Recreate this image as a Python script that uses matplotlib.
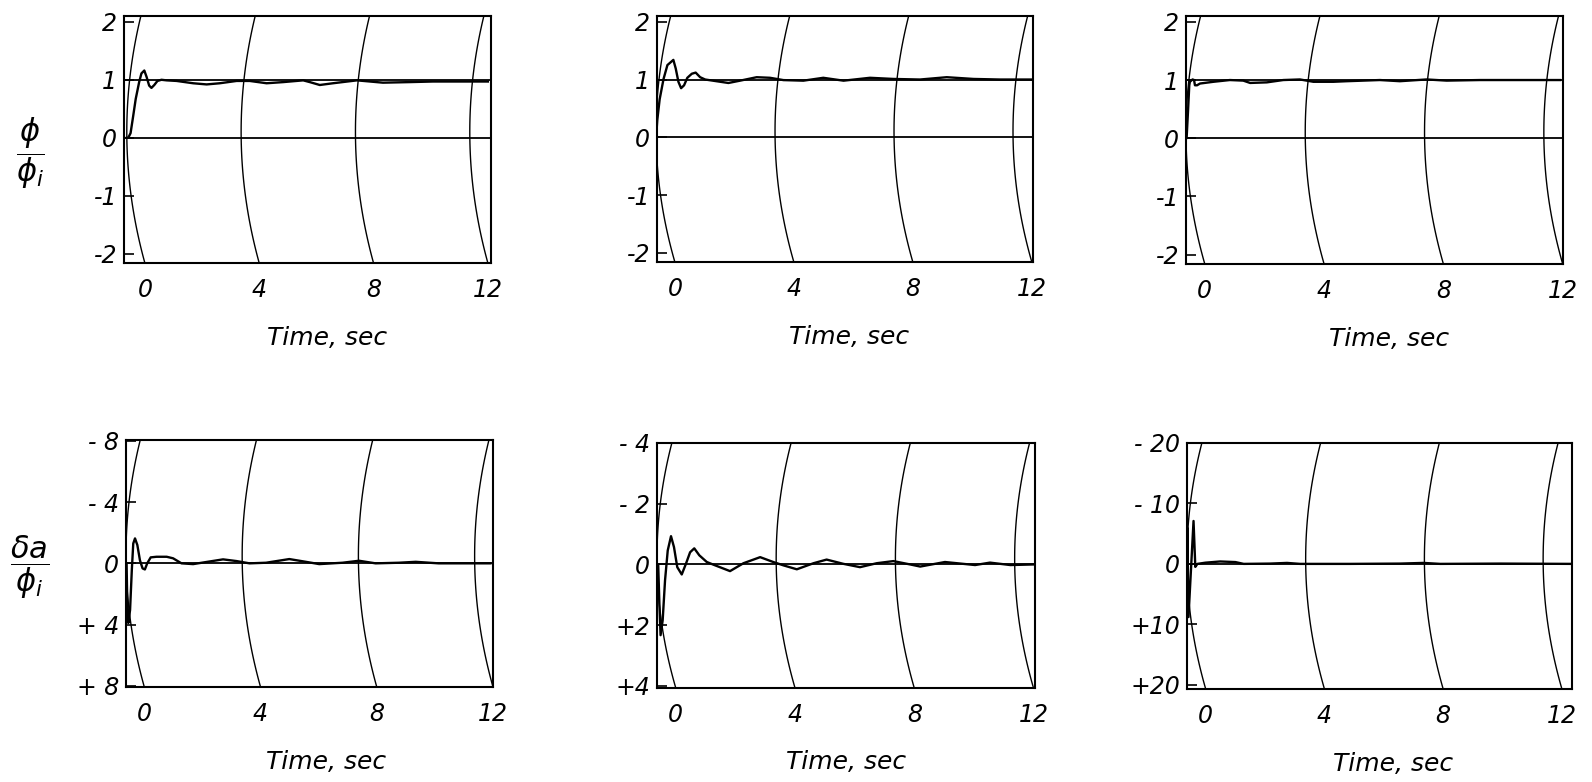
from matplotlib import pyplot as plt
import numpy as np

plt.rcParams['font.family'] = ['DejaVu Sans']
plt.rcParams['mathtext.fontset'] = 'dejavusans'

# bank angle response phi/phi_i, configurations A, B, C
T_PHI_A = [0.0, 0.05, 0.13, 0.22, 0.31, 0.43, 0.51, 0.61, 0.69, 0.78, 0.86, 0.96, 1.07, 1.21, 1.39, 1.74,
           2.32, 2.79, 3.25, 3.84, 4.30, 4.89, 5.47, 6.17, 6.40, 6.75, 7.21, 8.05, 8.96, 9.90, 10.71, 11.90, 12.63]
PHI_A = [0.0, 0.0, 0.08, 0.37, 0.67, 0.96, 1.11, 1.16, 1.05, 0.90, 0.86, 0.91, 0.98, 1.00, 0.99, 0.98,
         0.94, 0.92, 0.94, 0.98, 0.98, 0.94, 0.96, 0.99, 0.96, 0.91, 0.94, 0.99, 0.95, 0.96, 0.97, 0.97, 0.97]

T_PHI_B = [0.0, 0.04, 0.12, 0.25, 0.38, 0.58, 0.66, 0.75, 0.84, 0.94, 1.05, 1.20, 1.33, 1.48, 1.65, 2.04,
           2.43, 2.82, 3.38, 3.83, 4.28, 4.95, 5.62, 6.30, 7.19, 7.98, 8.87, 9.77, 10.67, 11.56, 12.63]
PHI_B = [0.0, 0.30, 0.66, 1.01, 1.25, 1.34, 1.19, 0.96, 0.85, 0.90, 1.03, 1.10, 1.12, 1.04, 1.00, 0.97,
         0.94, 0.98, 1.04, 1.03, 0.99, 0.98, 1.03, 0.98, 1.03, 1.01, 1.00, 1.04, 1.01, 1.00, 1.00]

T_PHI_C = [0.0, 0.02, 0.07, 0.11, 0.13, 0.22, 0.27, 0.30, 0.37, 0.47, 0.92, 1.47, 1.92, 2.15, 2.71, 3.26,
           3.82, 4.27, 4.94, 5.39, 6.50, 7.17, 8.07, 8.74, 9.86, 10.97, 12.54]
PHI_C = [0.0, 0.0, 0.49, 0.91, 0.97, 1.01, 1.00, 0.91, 0.91, 0.94, 0.97, 1.00, 0.99, 0.95, 0.96, 1.00,
         1.01, 0.97, 0.97, 0.98, 1.00, 0.98, 1.01, 0.99, 1.00, 1.00, 1.00]

# aileron deflection delta_a/phi_i, configurations A, B, C
T_DA_A = [0.0, 0.02, 0.04, 0.08, 0.14, 0.20, 0.25, 0.31, 0.39, 0.48, 0.57, 0.65, 0.73, 0.85, 1.05, 1.40,
          1.62, 1.91, 2.31, 2.77, 3.34, 3.80, 4.25, 4.82, 5.62, 6.19, 6.65, 7.45, 8.02, 8.59, 9.39, 9.97,
          10.76, 11.91, 12.54]
DA_A = [0.0, 0.0, 2.2, 3.9, 3.05, 0.44, -1.3, -1.63, -1.2, -0.2, 0.33, 0.4, 0.0, -0.39, -0.43, -0.43,
        -0.33, 0.0, 0.05, -0.09, -0.26, -0.15, 0.0, -0.04, -0.28, -0.1, 0.05, -0.04, -0.17, 0.0, -0.04, -0.1,
        0.0, 0.0, 0.0]

T_DA_B = [0.0, 0.04, 0.08, 0.12, 0.19, 0.27, 0.36, 0.47, 0.57, 0.68, 0.83, 0.97, 1.11, 1.25, 1.42, 1.67,
          1.95, 2.45, 2.90, 3.46, 3.90, 4.24, 4.69, 5.25, 5.69, 6.25, 6.81, 7.37, 7.93, 8.49, 8.83, 9.66,
          10.67, 11.17, 11.85, 12.65]
DA_B = [0.0, 0.0, 1.29, 2.33, 1.84, 0.52, -0.46, -0.93, -0.57, 0.09, 0.33, -0.02, -0.40, -0.53, -0.30, -0.08,
        0.03, 0.22, -0.04, -0.24, -0.08, 0.03, 0.16, -0.04, -0.16, -0.02, 0.09, -0.04, -0.11, 0.0, 0.07, -0.08,
        0.02, -0.06, 0.02, 0.0]

T_DA_C = [0.0, 0.01, 0.05, 0.22, 0.28, 0.35, 0.62, 1.12, 1.63, 1.91, 2.80, 3.37, 3.81, 5.50, 7.18, 7.97,
          8.53, 10.55, 12.97]
DA_C = [0.0, -6.0, 8.8, -7.1, 0.5, 0.0, -0.2, -0.4, -0.3, 0.0, -0.05, -0.16, 0.0, 0.0, -0.05, -0.16,
        0.0, -0.05, 0.0]

TIME_MARKS = [0, 4, 8, 12]
TIME_LABELS = ['0', '4', '8', '12']
PHI_TICKS = [2, 1, 0, -1, -2]
PHI_LABELS = ['2', '1', '0', '-1', '-2']
DA_TICKS = [[-8, -4, 0, 4, 8], [-4, -2, 0, 2, 4], [-20, -10, 0, 10, 20]]
DA_LABELS = [['- 8', '- 4', '0', '+ 4', '+ 8'], ['- 4', '- 2', '0', '+2', '+4'],
             ['- 20', '- 10', '0', '+10', '+20']]

# layout (pixels: left, top, right, bottom)
W, H = 1592, 782
BOX = [[(124, 16, 491, 263), (657, 16, 1033, 262), (1186, 16, 1563, 264)],
       [(126, 440, 493, 687), (657, 443, 1035, 688), (1187, 443, 1572, 689)]]
XLIM = [[(-0.10, 12.74), (0.03, 12.67), (0.0, 12.64)],
        [(0.0, 12.58), (0.0, 12.68), (0.0, 12.97)]]
YLIM = [[(-2.16, 2.10)] * 3,
        [(8.08, -8.06), (4.07, -3.97), (20.7, -19.8)]]
XLAB = [[0.553, 0.51, 0.538], [0.545, 0.50, 0.534]]
BOW, TILT = 0.56, -0.07   # recorder timing arcs: x = t + BOW*u^2 + TILT*u

TRACES = [[(T_PHI_A, PHI_A), (T_PHI_B, PHI_B), (T_PHI_C, PHI_C)],
          [(T_DA_A, DA_A), (T_DA_B, DA_B), (T_DA_C, DA_C)]]

fig = plt.figure(figsize=(W / 100, H / 100), dpi=100)

for r in range(2):
    for c in range(3):
        l, t, rr, b = BOX[r][c]
        ax = fig.add_axes([l / W, 1 - b / H, (rr - l) / W, (b - t) / H])
        ax.set_xlim(*XLIM[r][c])
        ax.set_ylim(*YLIM[r][c])
        for sp in ax.spines.values():
            sp.set_linewidth(1.5)

        # timing arcs
        y0, y1 = YLIM[r][c]
        yy = np.linspace(y0, y1, 80)
        u = 2 * (yy - y0) / (y1 - y0) - 1
        for tm in TIME_MARKS:
            ax.plot(tm + BOW * u**2 + TILT * u, yy, color='black', lw=1.0)

        ax.axhline(0, color='black', lw=1.3)
        if r == 0:
            ax.axhline(1, color='black', lw=1.3)

        tt, vv = TRACES[r][c]
        ax.plot(tt, vv, color='black', lw=1.7, solid_joinstyle='round')

        ax.set_xticks([tm + BOW - TILT for tm in TIME_MARKS], TIME_LABELS,
                      fontsize=17, fontstyle='italic')
        ax.tick_params(axis='x', length=0, pad=11)
        if r == 0:
            ax.set_yticks(PHI_TICKS, PHI_LABELS, fontsize=17, fontstyle='italic')
        else:
            ax.set_yticks(DA_TICKS[c], DA_LABELS[c], fontsize=17, fontstyle='italic')
        ax.tick_params(axis='y', direction='in', length=7, width=1.2, pad=5)

        ax.set_xlabel('Time, sec', fontsize=18, fontstyle='italic')
        ax.xaxis.set_label_coords(XLAB[r][c], -0.255)

fig.text(30 / W, 1 - 153 / H, r'$\dfrac{\phi}{\phi_i}$', fontsize=22, ha='center', va='center')
fig.text(30 / W, 1 - 567 / H, r'$\dfrac{\delta a}{\phi_i}$', fontsize=22, ha='center', va='center')

fig.savefig('out.png', dpi=100)
